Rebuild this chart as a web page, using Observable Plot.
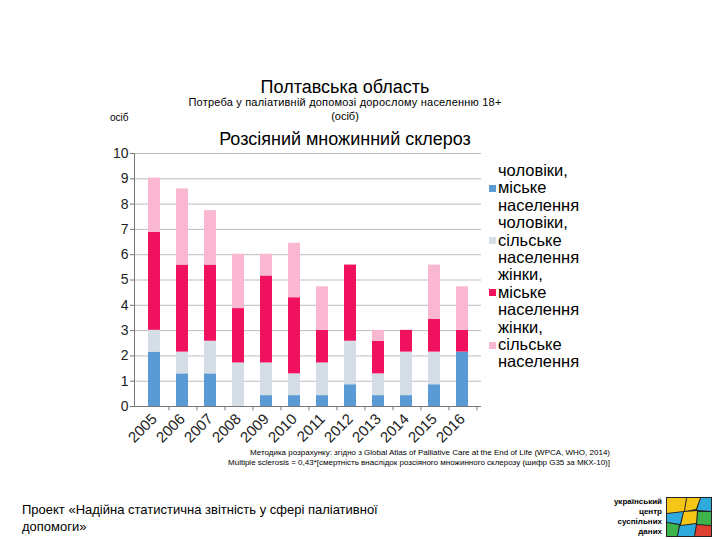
<!DOCTYPE html>
<html>
<head>
<meta charset="utf-8">
<script src="https://cdn.jsdelivr.net/npm/d3@7"></script>
<script src="https://cdn.jsdelivr.net/npm/@observablehq/plot@0.6"></script>
<style>
  html, body { margin: 0; padding: 0; background: #fff; }
  #wrap { position: relative; width: 720px; height: 540px; overflow: hidden; font-family: "Liberation Sans", Arial, sans-serif; color: #000; }
  .abs { position: absolute; white-space: nowrap; }
  #legend { position: absolute; left: 488px; top: 162px; font-size: 16.5px; line-height: 17.4px; color: #000; }
  .li { position: relative; padding-left: 10px; }
  .sw { position: absolute; left: 1px; top: 23px; width: 7px; height: 7px; }
</style>
</head>
<body>
<div id="wrap">
  <div class="abs" style="left:0;width:690px;top:77px;text-align:center;font-size:18px;">Полтавська область</div>
  <div class="abs" style="left:0;width:690px;top:96px;text-align:center;font-size:11px;letter-spacing:0.2px;">Потреба у паліативній допомозі дорослому населенню 18+</div>
  <div class="abs" style="left:0;width:690px;top:110px;text-align:center;font-size:11px;">(осіб)</div>
  <div class="abs" style="left:110px;top:112px;font-size:10px;">осіб</div>
  <div id="chart" class="abs" style="left:0;top:145px;"></div>
  <div class="abs" style="left:0;width:690px;top:129px;text-align:center;font-size:18px;">Розсіяний множинний склероз</div>
  <div id="legend"></div>
  <div class="abs" style="right:110px;top:448px;font-size:8px;text-align:right;line-height:10px;">Методика розрахунку: згідно з Global Atlas of Palliative Care at the End of Life (WPCA, WHO, 2014)<br>Multiple sclerosis = 0,43*[смертність внаслідок розсіяного множинного склерозу (шифр G35 за МКХ-10)]</div>
  <div class="abs" style="left:22px;top:501px;font-size:13px;line-height:17px;">Проект «Надійна статистична звітність у сфері паліативної<br>допомоги»</div>
  <div class="abs" style="right:58px;top:497px;font-size:8px;font-weight:bold;text-align:right;line-height:10px;">український<br>центр<br>суспільних<br>даних</div>
  <svg class="abs" style="left:666px;top:497px;" width="46" height="40" viewBox="0 0 46 40">
    <rect x="0" y="0" width="46" height="40" fill="#222"/>
    <polygon points="1,1 20,1 18,14 1,16" fill="#f5c518"/>
    <polygon points="21,1 34,1 30,12 19,14" fill="#f5c518"/>
    <polygon points="35,1 45,1 45,14 31,13" fill="#2eaadc"/>
    <polygon points="1,17 17,15 14,27 1,25" fill="#2eaadc"/>
    <polygon points="18,15 31,14 30,26 15,28" fill="#f5c518"/>
    <polygon points="32,15 45,15 45,28 31,27" fill="#3cb44b"/>
    <polygon points="1,26 13,28 11,39 1,39" fill="#3cb44b"/>
    <polygon points="14,29 30,27 28,39 12,39" fill="#2eaadc"/>
    <polygon points="31,28 45,29 45,39 29,39" fill="#e04030"/>
  </svg>
</div>
<script>
const years = ["2005","2006","2007","2008","2009","2010","2011","2012","2013","2014","2015","2016"];
const seriesNames = ["чоловіки, міське населення", "чоловіки, сільське населення", "жінки, міське населення", "жінки, сільське населення"];
const legendLines = [["чоловіки,", "міське", "населення"], ["чоловіки,", "сільське", "населення"], ["жінки,", "міське", "населення"], ["жінки,", "сільське", "населення"]];
const colors = ["#5b9bd5", "#d5dde7", "#f0125f", "#f9b7d1"];
const maleUrban   = [2.15, 1.29, 1.29, 0,    0.43, 0.43, 0.43, 0.86, 0.43, 0.43, 0.86, 2.15];
const maleRural   = [0.86, 0.86, 1.29, 1.72, 1.29, 0.86, 1.29, 1.72, 0.86, 1.72, 1.29, 0];
const femaleUrban = [3.87, 3.44, 3.01, 2.15, 3.44, 3.01, 1.29, 3.01, 1.29, 0.86, 1.29, 0.86];
const femaleRural = [2.15, 3.01, 2.15, 2.15, 0.86, 2.15, 1.72, 0,    0.43, 0,    2.15, 1.72];
const yTicks = [0,1,2,3,4,5,6,7,8,9,10];

const seriesValues = [maleUrban, maleRural, femaleUrban, femaleRural];
const data = [];
seriesValues.forEach((vals, si) => {
  vals.forEach((v, i) => data.push({year: years[i], series: seriesNames[si], value: v}));
});

const W = 490, ML = 134, MR = 9;
const step = (W - ML - MR) / years.length;

const chart = Plot.plot({
  width: W,
  height: 305,
  marginLeft: ML,
  marginRight: MR,
  marginTop: 8,
  marginBottom: 44,
  style: {fontFamily: "'Liberation Sans', Arial, sans-serif", fontSize: "14px", color: "#222", background: "transparent"},
  x: {type: "band", domain: years, paddingInner: 0.58, paddingOuter: 0.29, label: null},
  y: {domain: [0, 10], label: null},
  color: {domain: seriesNames, range: colors},
  marks: [
    Plot.ruleY(yTicks.filter(d => d > 0), {stroke: "#bdbdbd", strokeWidth: 1}),
    Plot.barY(data, {x: "year", y: "value", fill: "series", order: seriesNames}),
    Plot.ruleY([0], {stroke: "#777", strokeWidth: 1}),
    Plot.ruleX(years, {x: d => d, y1: 0, y2: -0.17, dx: step / 2, stroke: "#777"}),
    Plot.frame({anchor: "left", stroke: "#777"}),
    Plot.axisY({ticks: yTicks, tickSize: 4, tickPadding: 2, fontSize: 14, stroke: "#777"}),
    Plot.axisX({tickRotate: -45, tickSize: 0, tickPadding: 10, fontSize: 15, label: null})
  ]
});
document.getElementById("chart").appendChild(chart);

const legend = document.getElementById("legend");
seriesNames.forEach((s, i) => {
  const div = document.createElement("div");
  div.className = "li";
  const sw = document.createElement("span");
  sw.className = "sw";
  sw.style.background = colors[i];
  div.appendChild(sw);
  div.innerHTML += legendLines[i].join("<br>");
  legend.appendChild(div);
});
</script>
</body>
</html>
